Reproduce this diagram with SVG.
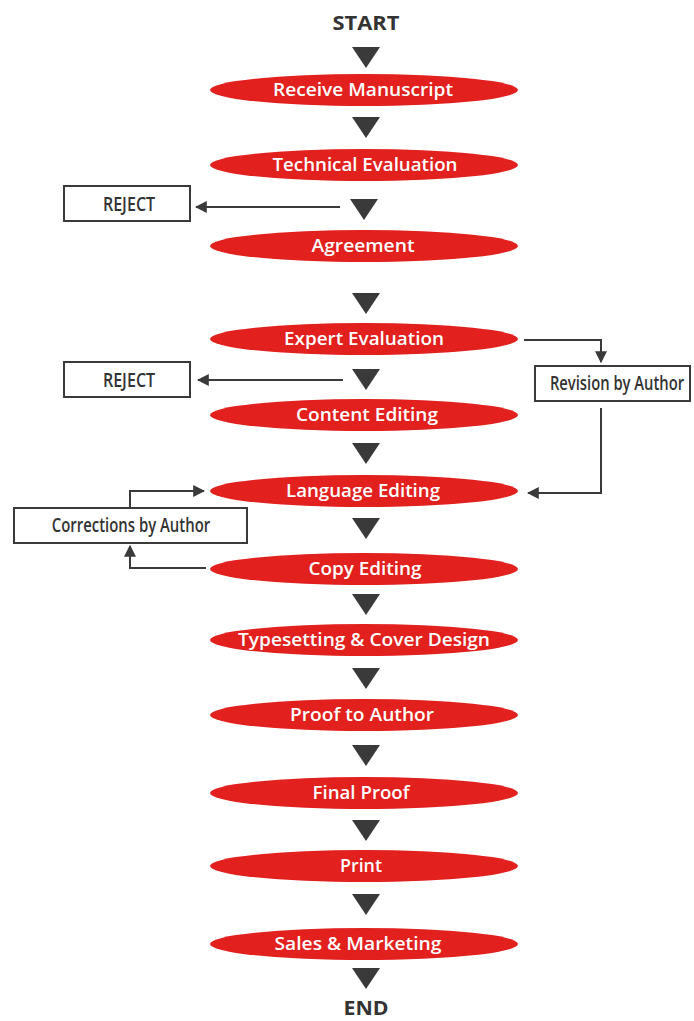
<svg xmlns="http://www.w3.org/2000/svg" width="694" height="1021" viewBox="0 0 694 1021">
  <style>
    .step ellipse { fill: #e2201e; }
    .step text { fill: #ffffff; font-family: "Open Sans", "Liberation Sans", sans-serif; font-weight: 600; font-size: 18px; text-anchor: middle; }
    .term { fill: #333333; font-family: "Open Sans", "Liberation Sans", sans-serif; font-weight: 700; font-size: 20px; text-anchor: middle; }
    .box rect { fill: #ffffff; stroke: #3a3a3a; stroke-width: 2; }
    .box text { fill: #333333; font-family: "Open Sans", "Liberation Sans", sans-serif; font-weight: 600; font-size: 19px; text-anchor: middle; }
    .tri { fill: #3a3a3a; }
    .link { fill: none; stroke: #3a3a3a; stroke-width: 2; }
  </style>
  <defs>
    <marker id="head" viewBox="0 0 10 10" refX="9" refY="5" markerWidth="6" markerHeight="6" markerUnits="strokeWidth" orient="auto">
      <path d="M0,0 L10,5 L0,10 z" fill="#3a3a3a"/>
    </marker>
    <path id="down" d="M-14,0 L14,0 L0,21 z"/>
  </defs>

  <rect width="694" height="1021" fill="#ffffff"/>

  <text id="start" class="term" x="366" y="30" textLength="67" lengthAdjust="spacingAndGlyphs">START</text>
  <text id="end" class="term" x="366" y="1015" textLength="45" lengthAdjust="spacingAndGlyphs">END</text>

  <!-- flow triangles between steps -->
  <g id="flow-triangles" class="tri">
    <use href="#down" x="366" y="47"/>
    <use href="#down" x="366" y="117"/>
    <use href="#down" x="364" y="199"/>
    <use href="#down" x="366" y="293"/>
    <use href="#down" x="366" y="369"/>
    <use href="#down" x="366" y="443"/>
    <use href="#down" x="366" y="518"/>
    <use href="#down" x="366" y="594"/>
    <use href="#down" x="366" y="668"/>
    <use href="#down" x="366" y="745"/>
    <use href="#down" x="366" y="820"/>
    <use href="#down" x="366" y="894"/>
    <use href="#down" x="366" y="968"/>
  </g>

  <g id="receive" class="step"><ellipse cx="364" cy="90" rx="154" ry="16"/><text x="363" y="96" textLength="180" lengthAdjust="spacingAndGlyphs">Receive Manuscript</text></g>
  <g id="technical" class="step"><ellipse cx="364" cy="165" rx="154" ry="16"/><text x="365" y="171" textLength="185" lengthAdjust="spacingAndGlyphs">Technical Evaluation</text></g>
  <g id="agreement" class="step"><ellipse cx="364" cy="246" rx="154" ry="16"/><text x="363" y="252" textLength="103" lengthAdjust="spacingAndGlyphs">Agreement</text></g>
  <g id="expert" class="step"><ellipse cx="364" cy="339" rx="154" ry="16"/><text x="364" y="345" textLength="160" lengthAdjust="spacingAndGlyphs">Expert Evaluation</text></g>
  <g id="content" class="step"><ellipse cx="364" cy="415" rx="154" ry="16"/><text x="367" y="421" textLength="142" lengthAdjust="spacingAndGlyphs">Content Editing</text></g>
  <g id="language" class="step"><ellipse cx="364" cy="491" rx="154" ry="16"/><text x="363" y="497" textLength="154" lengthAdjust="spacingAndGlyphs">Language Editing</text></g>
  <g id="copy" class="step"><ellipse cx="364" cy="569" rx="154" ry="16"/><text x="365" y="575" textLength="113" lengthAdjust="spacingAndGlyphs">Copy Editing</text></g>
  <g id="typesetting" class="step"><ellipse cx="364" cy="640" rx="154" ry="16"/><text x="364" y="646" textLength="252" lengthAdjust="spacingAndGlyphs">Typesetting &amp; Cover Design</text></g>
  <g id="proof" class="step"><ellipse cx="364" cy="715" rx="154" ry="16"/><text x="362" y="721" textLength="144" lengthAdjust="spacingAndGlyphs">Proof to Author</text></g>
  <g id="final" class="step"><ellipse cx="364" cy="793" rx="154" ry="16"/><text x="361" y="799" textLength="97" lengthAdjust="spacingAndGlyphs">Final Proof</text></g>
  <g id="print" class="step"><ellipse cx="364" cy="866" rx="154" ry="16"/><text x="361" y="872" textLength="42" lengthAdjust="spacingAndGlyphs">Print</text></g>
  <g id="sales" class="step"><ellipse cx="364" cy="944" rx="154" ry="16"/><text x="358" y="950" textLength="167" lengthAdjust="spacingAndGlyphs">Sales &amp; Marketing</text></g>

  <!-- side boxes: labels drawn in a horizontally condensed face -->
  <g id="reject-1" class="box"><rect x="64" y="186" width="126" height="35"/><text transform="translate(129,211) scale(0.78,1)" textLength="67" lengthAdjust="spacingAndGlyphs">REJECT</text></g>
  <g id="reject-2" class="box"><rect x="64" y="362" width="126" height="35"/><text transform="translate(129,387) scale(0.78,1)" textLength="67" lengthAdjust="spacingAndGlyphs">REJECT</text></g>
  <g id="revision" class="box"><rect x="535" y="366" width="155" height="35"/><text transform="translate(617,390) scale(0.78,1)" textLength="172" lengthAdjust="spacingAndGlyphs">Revision by Author</text></g>
  <g id="corrections" class="box"><rect x="14" y="508" width="233" height="35"/><text transform="translate(131,532) scale(0.78,1)" textLength="203" lengthAdjust="spacingAndGlyphs">Corrections by Author</text></g>

  <g id="connectors">
    <path class="link" d="M340,207 H196" marker-end="url(#head)"/>
    <path class="link" d="M343,380 H198" marker-end="url(#head)"/>
    <path class="link" d="M524,340 H601 V362" marker-end="url(#head)"/>
    <path class="link" d="M601,408 V493 H528" marker-end="url(#head)"/>
    <path class="link" d="M130,507 V491 H204" marker-end="url(#head)"/>
    <path class="link" d="M206,568 H130 V546" marker-end="url(#head)"/>
  </g>
</svg>
